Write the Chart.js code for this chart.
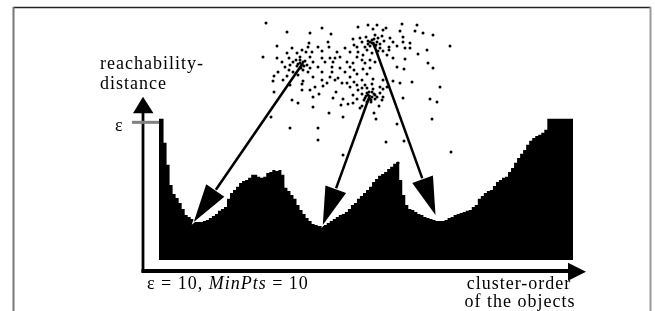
<!DOCTYPE html>
<html><head><meta charset="utf-8">
<script src="https://cdn.jsdelivr.net/npm/chart.js@4.4.1/dist/chart.umd.min.js"></script>
<style>html,body{margin:0;padding:0;background:#fff;overflow:hidden}canvas{display:block}</style>
</head><body>
<canvas id="c" width="655" height="311"></canvas>
<script>
// reachability distance for each object, in cluster order (epsilon = 10)
const EPS = 10;
const MINPTS = 10;
const REACH = [
 10,10,8.30,6.74,5.32,4.68,4.40,4.04,3.62,3.19,
 3.05,2.91,2.70,2.70,2.70,2.77,2.84,2.98,3.12,3.26,
 3.48,3.62,3.76,4.33,4.75,4.96,5.18,5.46,5.60,5.67,
 5.82,6.03,6.03,5.89,5.82,5.89,6.17,6.24,6.38,6.31,
 6.38,6.03,5.11,4.89,4.61,4.33,3.90,3.55,3.26,2.98,
 2.77,2.55,2.48,2.41,2.41,2.48,2.62,2.77,2.91,3.05,
 3.19,3.26,3.40,3.62,3.90,4.04,4.33,4.54,4.75,4.96,
 5.18,5.53,5.74,5.96,6.10,6.24,6.45,6.60,6.81,6.95,
 5.67,4.61,3.90,3.62,3.55,3.40,3.26,3.19,3.05,2.98,
 2.91,2.84,2.77,2.77,2.77,2.84,2.98,3.05,3.19,3.26,
 3.33,3.40,3.48,3.55,3.76,3.90,4.33,4.54,4.75,4.89,
 4.96,5.25,5.53,5.67,5.82,5.89,6.24,6.52,6.88,7.23,
 7.52,7.80,8.16,8.44,8.65,8.79,8.87,9.01,9.22,10,
 10,10,10,10,10,10,10,10
];
const ORDER = REACH.map((_, i) => String(i + 1));

// 2-D data set (feature space units)
const DOTS_LEFT = [
 [53.5,118.5],[64,114],[75.5,113.5],[81.5,116],[86,113],[75,108.5],[84.5,109],[97,110.5],
 [59,107],[66.5,106],[71.5,105],[74.5,106.5],[79.5,106.5],[85,106.5],[93,106],[97.5,107.5],
 [64,103.5],[69,103.5],[73.5,104],[76.5,104],[81.5,104.5],[89,104],[95.5,104],
 [52,101.5],[59,101],[65,101],[70.5,101.5],[75.5,101.5],[81.5,101],[85.5,101],[88,101],[90.5,101.5],
 [61.5,99],[67,99],[70.5,98.5],[72,99],[77,99],[83,99],[87,99],[94,99],
 [63,96.5],[65.5,97.5],[69,97],[71.5,97.5],[74,97.5],[75.5,96],[79.5,96.5],[86.5,96.5],[90.5,96],[95.5,96.5],
 [59.5,94],[65,95],[67,94],[72,95],[74.5,94],[81.5,94],[86.5,94],[93,94],[97.5,95],
 [57.5,92],[64,92],[69.5,92.5],[77,91.5],[85.5,91.5],[89.5,91],[95.5,91.5],
 [57,89.5],[62,90],[72,89.5],[81.5,90],[88,90],[94,88.5],[97.5,89],
 [65.5,87.5],[71.5,88],[78,86.5],[82,87],[84,88.5],[91.5,88.5],[95.5,86.5],
 [70.5,100],[73,99.5],[69.5,98],[72.5,97],[71,96],[68.5,100]
];
const DOTS_SPARSE = [
 [57.5,84],[71.5,85],[75.5,85],[88.5,84],[77,81.5],[80,83],[87,81],[92,80.5],[97,82.5],
 [66.5,80],[69.5,78.5],[77,76.5],[91,77.5],[94.5,78],[97,78.5],[85,73.5],[56,71.5],[92,71.5],
 [65.5,66],[79.5,66],[79.5,60],[92,52.5]
];
const DOTS_UPPER = [
 [99.5,116.5],[104.5,117.5],[109,117.5],[113.5,116],[121.5,118],[129,117.5],[107,115.5],[112,115],
 [120.5,114.5],[128,114.5],[132,113.5],[137,112.5],[100.5,111],[103.5,111.5],[108,112.5],[111.5,112],
 [115.5,111],[122,111.5],[101.5,109],[104.5,109.5],[106.5,108.5],[109,109],[112.5,109.5],[117,109],
 [122,109],[125.5,108.5],[99,106.5],[103,106.5],[105.5,107],[108,106.5],[110.5,106],[115,106.5],
 [119,107],[123,106],[125.5,106],[145.5,107],[99.5,104],[104,105],[109.5,104.5],[112,104.5],
 [115,105],[134,105],[99,101.5],[102,102.5],[106.5,103.5],[114,102.5],[117,101],[129.5,103],
 [101.5,100],[105.5,100],[123,100.5],[97,98.5],[103,98.5],[108,99],[134.5,98.5],[119,96.5],
 [122.5,95.5],[137,96],[102,95.5],[105.5,96],[99,93],[104,93],[101.5,90],[107,90.5],[112,90],
 [117,89.5],[120.5,88.5],[126.5,89],[99,87.5],[103,87.5],[106.5,88],[110.5,86.5],[114,86.5],
 [101.5,86],[104,86],[140.5,86.5],
 [106.5,110],[109.5,111],[107.5,107.5],[105.5,109],[108.5,107.5],[110.5,108],[104.5,108],[107.5,110.5]
];
const DOTS_LOWER = [
 [99.5,85],[107,85.5],[112,85.5],[101.5,83],[104,83.5],[106.5,84],[108,82.5],[110.5,83.5],[112,81.5],
 [99,80.5],[103,81],[105.5,80.5],[108,80.5],[111.5,80],[104,79],[106,79],[101.5,77],[110,77],[100.5,76],
 [122,81],[135.5,80.5],[139,79],[107.5,73.5],[108.5,70.5],[136.5,70.5],[119,68],[113.5,59],[122.5,59.5],
 [146,54],[119.5,48.5],
 [104.5,82.5],[106.5,81.5],[103.5,82],[107.5,83],[105,84],[106,80],[102.5,80],[109,81.5]
];
const DOTS = [...DOTS_LEFT, ...DOTS_SPARSE, ...DOTS_UPPER, ...DOTS_LOWER];

// arrows: from a cluster (feature space) to its valley (order index, reachability)
const ARROWS = [
 {from:[72,98.5],   to:[11.5,2.70]},
 {from:[105.5,82.5],to:[54.2,2.48]},
 {from:[107,109],   to:[91.5,3.19]}
];

const SERIF = '"Liberation Serif","Times New Roman",serif';

const overlay = {
  id:'overlay',
  afterDatasetsDraw(chart){
    const ctx = chart.ctx, A = chart.chartArea;
    const X = chart.scales.x, Y = chart.scales.y, XS = chart.scales.xs, YS = chart.scales.ys;
    ctx.save();
    const line = (x1,y1,x2,y2,w,c)=>{ctx.beginPath();ctx.moveTo(x1,y1);ctx.lineTo(x2,y2);ctx.lineWidth=w;ctx.strokeStyle=c;ctx.stroke();};
    // frame
    line(13,7.5,651,7.5,1.5,'#222');
    line(13.5,7,13.5,311,2,'#777');
    line(650.5,7,650.5,311,2,'#999');
    // axes
    const ax = A.left - 16, ay = A.bottom + 11;
    const yTop = Y.getPixelForValue(EPS) - 22;
    line(ax, yTop + 14, ax, ay + 1.5, 2.8, '#000');
    ctx.beginPath(); ctx.moveTo(ax, yTop); ctx.lineTo(ax-10, yTop+16.5); ctx.lineTo(ax+10.5, yTop+16.5); ctx.closePath(); ctx.fillStyle='#000'; ctx.fill();
    const xEnd = A.right + 13;
    line(ax-1.5, ay, xEnd-16, ay, 4, '#000');
    ctx.beginPath(); ctx.moveTo(xEnd, ay+0.7); ctx.lineTo(xEnd-18, ay-8.3); ctx.lineTo(xEnd-18, ay+9.7); ctx.closePath(); ctx.fill();
    // epsilon tick
    const ey = Y.getPixelForValue(EPS) + 3.5;
    line(ax-11, ey, A.left, ey, 3, '#808080');
    // arrows
    ARROWS.forEach(a=>{
      const sx = XS.getPixelForValue(a.from[0]), sy = YS.getPixelForValue(a.from[1]);
      const tx = X.getPixelForValue(a.to[0]), ty = Y.getPixelForValue(a.to[1]);
      const dx = tx-sx, dy = ty-sy, len = Math.hypot(dx,dy), ux = dx/len, uy = dy/len;
      const L = 38, H = 11;
      const bx = tx-ux*L, by = ty-uy*L;
      line(sx, sy, bx+ux*2, by+uy*2, 2.5, '#000');
      ctx.beginPath(); ctx.moveTo(tx,ty); ctx.lineTo(bx-uy*H, by+ux*H); ctx.lineTo(bx+uy*H, by-ux*H); ctx.closePath();
      ctx.lineWidth = 2; ctx.strokeStyle = '#fff'; ctx.stroke();
      ctx.fillStyle = '#000'; ctx.fill();
    });
    // texts
    ctx.fillStyle = '#000';
    ctx.textBaseline = 'alphabetic';
    try { ctx.letterSpacing = '1px'; } catch(e) {}
    ctx.font = '18px ' + SERIF;
    ctx.textAlign = 'left';
    ctx.fillText('reachability-', 100, 69);
    ctx.fillText('distance', 100, 89);
    ctx.fillText('ε', 115, 131);
    let x = 147;
    const parts = [['ε = ' + EPS + ', ', false], ['MinPts', true], [' = ' + MINPTS, false]];
    parts.forEach(([t, it])=>{
      ctx.font = (it ? 'italic ' : '') + '18px ' + SERIF;
      ctx.fillText(t, x, 289);
      x += ctx.measureText(t).width;
    });
    ctx.font = '18px ' + SERIF;
    ctx.textAlign = 'center';
    ctx.fillText('cluster-order', 519, 289);
    ctx.fillText('of the objects', 520, 307);
    ctx.restore();
  }
};

new Chart(document.getElementById('c').getContext('2d'), {
  type:'line',
  data:{
    labels: ORDER,
    datasets:[
      {type:'line', label:'reachability', data:REACH, stepped:'middle', fill:'origin',
       backgroundColor:'#000', borderColor:'#000', borderWidth:0, pointRadius:0,
       xAxisID:'x', yAxisID:'y', order:2},
      {type:'scatter', label:'objects', data:DOTS.map(([u,w])=>({x:u,y:w})), xAxisID:'xs', yAxisID:'ys',
       showLine:false, pointRadius:1.5, pointBackgroundColor:'#000', pointBorderWidth:0, clip:false, order:1}
    ]
  },
  options:{
    responsive:false, animation:false, events:[],
    layout:{padding:{left:159, right:82, top:20, bottom:51}},
    plugins:{legend:{display:false}, tooltip:{enabled:false}, title:{display:false}},
    scales:{
      x:{type:'category', display:false, offset:false, grid:{display:false}},
      y:{type:'linear', display:false, min:0, max:17},
      xs:{type:'linear', display:false, min:0, max:207},
      ys:{type:'linear', display:false, min:0, max:120}
    }
  },
  plugins:[overlay]
});
</script>
</body></html>
